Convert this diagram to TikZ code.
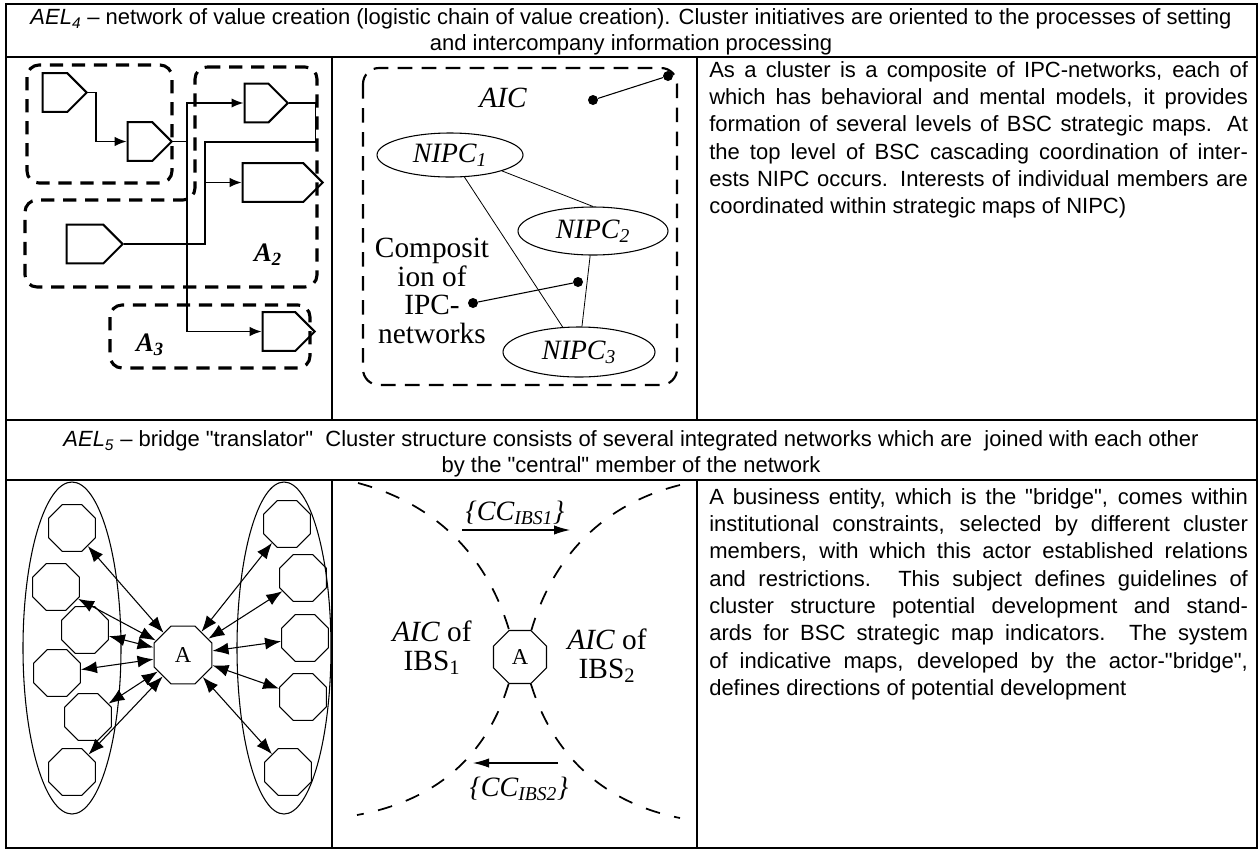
\documentclass[tikz,border=0pt]{standalone}
\usepackage{fontspec}
\setmainfont{Liberation Serif}
\newfontfamily\tabfont{Liberation Sans}
\usetikzlibrary{shapes.geometric,shapes.symbols,arrows.meta}

\newlength{\colw}
\setlength{\colw}{404pt}
\newcommand{\jl}[1]{\makebox[\colw][s]{#1}}

\begin{document}
\begin{tikzpicture}[x=0.75pt, y=-0.75pt,
    tabline/.style={line width=0.9pt},
    hdr/.style={font=\tabfont\fontsize{16.5}{19.5}\selectfont, align=center, inner sep=0pt},
    txt/.style={font=\tabfont\fontsize{16.5}{20.5}\selectfont, align=left, inner sep=0pt, anchor=north west},
    pent/.style={draw, signal, signal to=east, line width=1.5pt, inner sep=0pt, minimum height=29pt},
    flow/.style={line width=1.1pt, -{Latex[length=9pt, width=7pt]}},
    zonebox/.style={line width=2.3pt, dash pattern=on 10pt off 6.5pt, rounded corners=9pt},
    zonelbl/.style={font=\fontsize{20}{20}\selectfont\bfseries\itshape},
    aicbox/.style={line width=1.6pt, dash pattern=on 11pt off 7pt, rounded corners=12pt},
    nipc/.style={draw, ellipse, line width=0.8pt, inner sep=0pt, font=\fontsize{21}{21}\selectfont\itshape},
    blob/.style={circle, fill, inner sep=0pt, minimum size=7.5pt},
    oct/.style={draw, regular polygon, regular polygon sides=8, line width=0.8pt, inner sep=0pt, minimum size=38pt, font=\fontsize{17}{17}\selectfont},
    twoway/.style={line width=0.8pt, {Latex[length=12pt, width=9pt]}-{Latex[length=12pt, width=9pt]}},
    ibsline/.style={line width=1.3pt, dash pattern=on 11pt off 11pt},
    ibslbl/.style={align=center, font=\fontsize{22}{21.5}\selectfont},
    cclbl/.style={font=\fontsize{21}{21}\selectfont\itshape},
    ccarrow/.style={line width=0.8pt, -{Latex[length=12pt, width=7pt]}}]
    \useasboundingbox (0,0) rectangle (1260,851);

    % table
    \draw[tabline] (6,4) rectangle (1257,848);
    \draw[tabline] (6,57)    -- (1257,57);
    \draw[tabline] (6,420)   -- (1257,420);
    \draw[tabline] (6,480)   -- (1257,480);
    \draw[tabline] (332,57)  -- (332,420);
    \draw[tabline] (697,57)  -- (697,420);
    \draw[tabline] (332,480) -- (332,848);
    \draw[tabline] (697,480) -- (697,848);

    \node(h1) at (631,32)  [hdr] {\textit{AEL\textsubscript{4}} \textendash{} network of value creation (logistic chain of value creation). Cluster initiatives are oriented to the processes of setting\\and intercompany information processing};
    \node(h2) at (631,454) [hdr] {\textit{AEL\textsubscript{5}} \textendash{} bridge "translator"\ \ Cluster structure consists of several integrated networks which are\ \ joined with each other\\by the "central" member of the network};

    % value chain
    \draw[zonebox] (27,65) rectangle (172,183);
    \draw[zonebox] (195,67) -- (317,67) -- (317,287) -- (25,287) -- (25,200) -- (195,200) -- cycle;
    \draw[zonebox] (110,305) rectangle (310,368);
    \node(p1) at ( 55, 92.5) [pent, minimum width=33pt] {};
    \node(p2) at (140,141.5) [pent, minimum width=33pt] {};
    \node(p3) at (256.5,103) [pent, minimum width=32.5pt] {};
    \node(p4) at (273,182.5) [pent, minimum width=60pt] {};
    \node(p5) at ( 85,244)   [pent, minimum width=42pt] {};
    \node(p6) at (279,331.5) [pent, minimum width=39pt] {};
    \coordinate(j1) at (187,141.5);
    \coordinate(j2) at (205,182.5);
    \draw[flow] (p1.east) -- ++(8,0) |- (p2.west);
    \draw[line width=1.1pt] (p2.east) -- (j1);
    \draw[flow] (j1) |- (p3.west);
    \draw[flow] (j1) |- (p6.west);
    \draw[flow] (p3.east) -- ++(26,0) -- ++(0,39) -| (j2) -- (p4.west);
    \draw[line width=1.1pt] (p5.east) -| (j2);
    \node(a2) at (268,255) [zonelbl] {A\textsubscript{2}};
    \node(a3) at (150,345) [zonelbl] {A\textsubscript{3}};

    % composition of networks
    \draw[aicbox] (363,68) rectangle (677,385);
    \node(aic) at (503,98) [font=\fontsize{22}{22}\selectfont\itshape] {AIC};
    \node(d1) at (593,100) [blob] {};
    \node(d2) at (668,76)  [blob] {};
    \draw[line width=0.8pt] (d1) -- (d2);
    \node(n1) at (450,155) [nipc, minimum width=109.5pt, minimum height=33pt]   {NIPC\textsubscript{1}};
    \node(n2) at (593,231) [nipc, minimum width=112.5pt, minimum height=36pt]   {NIPC\textsubscript{2}};
    \node(n3) at (579,352) [nipc, minimum width=114pt,   minimum height=37.5pt] {NIPC\textsubscript{3}};
    \draw[line width=0.6pt] (n1) -- (n3);
    \draw[line width=0.6pt] (n1.south east) -- (n2.north);
    \draw[line width=0.6pt] (n2) -- (n3);
    \node(d3) at (473,303) [blob] {};
    \node(d4) at (578,282) [blob] {};
    \draw[line width=0.8pt] (d3) -- (d4);
    \node(cmp) at (432,291) [ibslbl] {Composit\\ion of\\IPC-\\networks};

    \node(t1) at (709,61) [txt] {\jl{As a cluster is a composite of IPC-networks, each of}\\
        \jl{which has behavioral and mental models, it provides}\\
        \jl{formation of several levels of BSC strategic maps. At}\\
        \jl{the top level of BSC cascading coordination of inter-}\\
        \jl{ests NIPC occurs. Interests of individual members are}\\
        coordinated within strategic maps of NIPC)};

    % bridge
    \node(le) at (72,648)  [draw, ellipse, line width=0.8pt, minimum width=73.5pt, minimum height=249pt] {};
    \node(re) at (284,648) [draw, ellipse, line width=0.8pt, minimum width=70.5pt, minimum height=249pt] {};
    \node(c)  at (183,655) [oct, minimum size=47pt] {A};
    \node(l1) at (72,528)  [oct] {};
    \node(l2) at (56,587)  [oct] {};
    \node(l3) at (85,630)  [oct] {};
    \node(l4) at (57,673)  [oct] {};
    \node(l5) at (88,717)  [oct] {};
    \node(l6) at (72,772)  [oct] {};
    \node(r1) at (287,524) [oct] {};
    \node(r2) at (303,578) [oct] {};
    \node(r3) at (305,638) [oct] {};
    \node(r4) at (303,697) [oct] {};
    \node(r5) at (288,772) [oct] {};
    \draw[twoway] (l1) -- (c);
    \draw[twoway] (l2) -- (c);
    \draw[twoway] (l3) -- (c);
    \draw[twoway] (l4) -- (c);
    \draw[twoway] (l5) -- (c);
    \draw[twoway] (l6) -- (c);
    \draw[twoway] (r1) -- (c);
    \draw[twoway] (r2) -- (c);
    \draw[twoway] (r3) -- (c);
    \draw[twoway] (r4) -- (c);
    \draw[twoway] (r5) -- (c);

    % translator between two IBS
    \node(a) at (520,657) [oct, minimum size=43pt] {A};
    \coordinate(ul) at (358,483);
    \coordinate(ur) at (680,485);
    \coordinate(ll) at (357,815);
    \coordinate(lr) at (680,818);
    \draw[ibsline] (ul) .. controls (440,505) and (488,560) .. (a.112.5);
    \draw[ibsline] (ur) .. controls (600,505) and (552,560) .. (a.67.5);
    \draw[ibsline] (a.247.5) .. controls (488,752) and (440,800) .. (ll);
    \draw[ibsline] (a.292.5) .. controls (552,752) and (600,802) .. (lr);
    \node(ibs1) at (432,648) [ibslbl] {\textit{AIC} of\\IBS\textsubscript{1}};
    \node(ibs2) at (607,656) [ibslbl] {\textit{AIC} of\\IBS\textsubscript{2}};
    \node(cc1) at (515,513) [cclbl] {\{CC\textsubscript{IBS1}\}};
    \node(cc2) at (519,789) [cclbl] {\{CC\textsubscript{IBS2}\}};
    \coordinate(f1) at (462,530);
    \coordinate(f2) at (570,530);
    \coordinate(g1) at (558,763);
    \coordinate(g2) at (473,763);
    \draw[ccarrow] (f1) -- (f2);
    \draw[ccarrow] (g1) -- (g2);

    \node(t2) at (709,488) [txt] {\jl{A business entity, which is the "bridge", comes within}\\
        \jl{institutional constraints, selected by different cluster}\\
        \jl{members, with which this actor established relations}\\
        \jl{and restrictions. This subject defines guidelines of}\\
        \jl{cluster structure potential development and stand-}\\
        \jl{ards for BSC strategic map indicators. The system}\\
        \jl{of indicative maps, developed by the actor-"bridge",}\\
        defines directions of potential development};
\end{tikzpicture}
\end{document}
